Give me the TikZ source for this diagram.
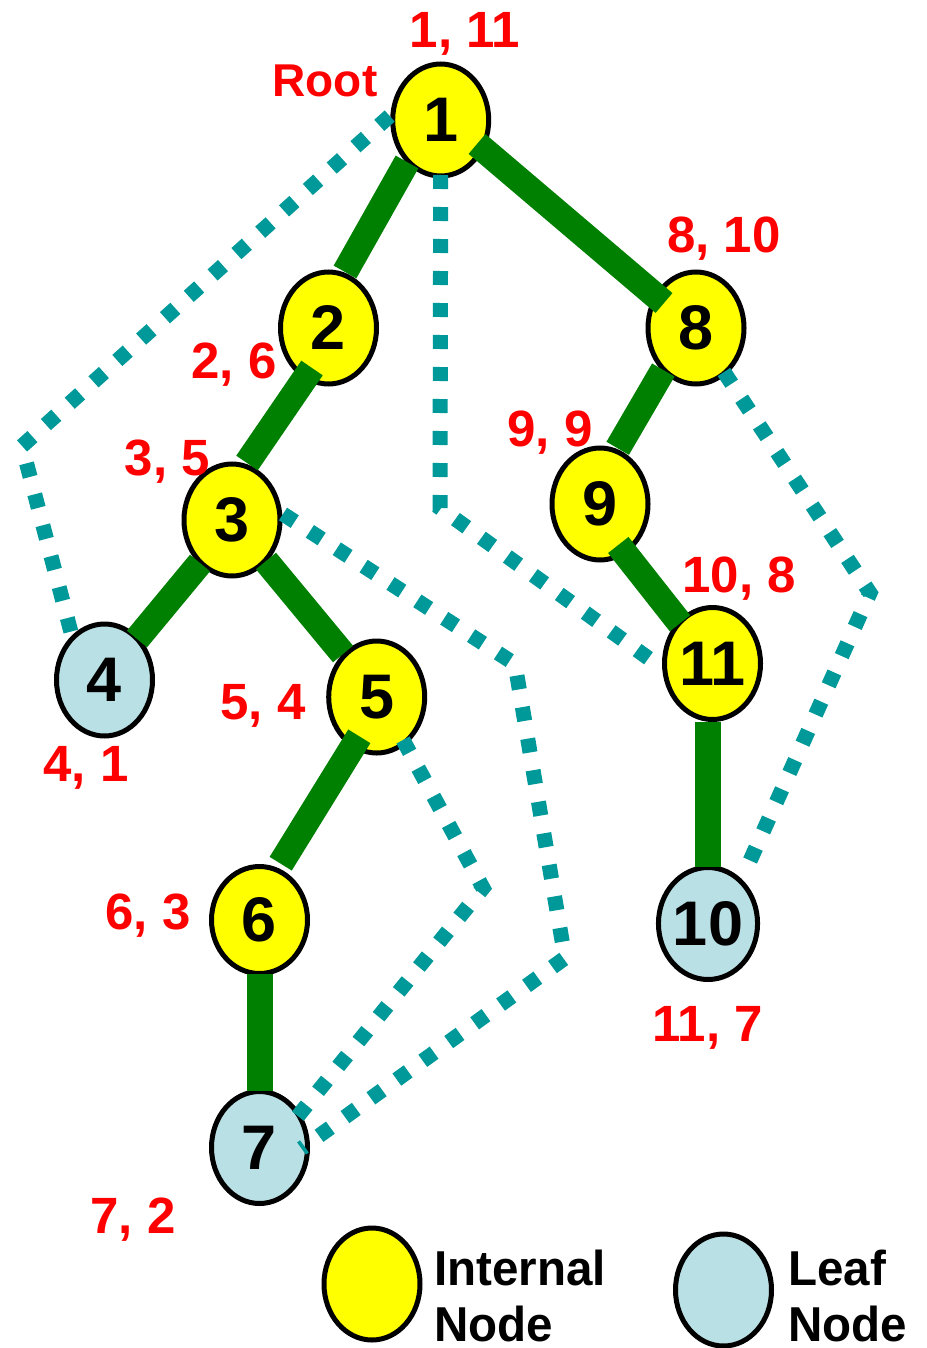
\documentclass[tikz,border=0pt]{standalone}
\usepackage{fontspec}
\setmainfont{Liberation Sans}
\usetikzlibrary{shapes.geometric,calc}
\definecolor{nodeyellow}{RGB}{255,255,0}
\definecolor{leafblue}{RGB}{185,224,228}
\definecolor{edgegreen}{RGB}{0,128,0}
\definecolor{dotteal}{RGB}{0,153,153}
\definecolor{labelred}{RGB}{255,0,0}
\begin{document}
\begin{tikzpicture}[x=1pt,y=-1pt,
  treenode/.style={ellipse,draw=black,line width=5pt,minimum width=96pt,minimum height=112pt,inner sep=0pt,font=\fontsize{63}{63}\selectfont\bfseries},
  internal/.style={treenode,fill=nodeyellow},
  leaf/.style={treenode,fill=leafblue},
  treeedge/.style={draw=edgegreen,line width=26pt},
  threadline/.style={draw=dotteal,line width=15pt,dash pattern=on 14pt off 18pt},
  numlabel/.style={text=labelred,font=\fontsize{51}{51}\selectfont\bfseries,anchor=base,inner sep=0pt},
  rootlabel/.style={text=labelred,font=\fontsize{46}{46}\selectfont\bfseries,anchor=base,inner sep=0pt},
  legendtext/.style={font=\fontsize{49}{49}\selectfont\bfseries,anchor=base west,inner sep=0pt,xscale=0.97}
]
\useasboundingbox (0,0) rectangle (926,1348);

% nodes
\node[internal] (n1) at (440.7,120) {1};
\node[internal] (n2) at (328.5,328) {2};
\node[internal] (n3) at (232,520) {3};
\node[leaf] (n4) at (104.5,680) {4};
\node[internal] (n5) at (376.7,697) {5};
\node[internal,minimum height=107pt] (n6) at (259.5,920) {6};
\node[leaf] (n7) at (259.5,1147.5) {7};
\node[internal] (n8) at (696,328) {8};
\node[internal] (n9) at (600,504) {9};
\node[leaf] (n10) at (708,923.5) {10};
\node[internal] (n11) at (712.5,663.5) {11};

% tree edges
\draw[treeedge] ($(n1)+(-33.7,42)$) -- ($(n2)+(16.5,-56)$);
\draw[treeedge] ($(n1)+(36.3,24)$) -- ($(n8)+(-32,-25)$);
\draw[treeedge] ($(n2)+(-16.5,40)$) -- ($(n3)+(15,-57)$);
\draw[treeedge] ($(n3)+(-32,43)$) -- ($(n4)+(32.5,-41)$);
\draw[treeedge] ($(n3)+(34,41)$) -- ($(n5)+(-33.7,-43)$);
\draw[treeedge] ($(n5)+(-17.4,39.3)$) -- ($(n6)+(21.2,-56.3)$);
\draw[treeedge] ($(n6)+(0,54)$) -- ($(n7)+(0,-57)$);
\draw[treeedge] ($(n8)+(-32.7,42)$) -- ($(n9)+(17.7,-55.7)$);
\draw[treeedge] ($(n9)+(18.3,41)$) -- ($(n11)+(-32.5,-40.2)$);
\draw[treeedge] ($(n11)+(-4.2,58)$) -- ($(n10)+(0.3,-56.8)$);

% thread lines
\coordinate (ca) at (22,446);
\coordinate (cb) at (440,508);
\coordinate (cc) at (870,593);
\coordinate (cd1) at (515,664);
\coordinate (cd2) at (565,958);
\coordinate (ce) at (483,888);
\draw[threadline] ($(n1)+(-51,-4)$) -- (ca) -- ($(n4)+(-32.5,-44)$);
\draw[threadline] ($(n1)+(0,55)$) -- (cb) -- ($(n11)+(-50.5,4.5)$);
\draw[threadline] ($(n8)+(28,44)$) -- (cc) -- ($(n10)+(37,-51.5)$);
\draw[threadline] ($(n3)+(51,-6)$) -- (cd1) -- (cd2) -- ($(n7)+(42,1)$);
\draw[threadline] ($(n5)+(26.3,43)$) -- (ce) -- ($(n7)+(34,-26)$);

% labels
\node[numlabel] (l1) at (465,48) {1, 11};
\node[rootlabel] (lroot) at (325,97) {Root};
\node[numlabel] (l8) at (724,253) {8, 10};
\node[numlabel] (l2) at (234,378) {2, 6};
\node[numlabel] (l9) at (550,446) {9, 9};
\node[numlabel] (l3) at (167.5,475) {3, 5};
\node[numlabel] (l11) at (739,592) {10, 8};
\node[numlabel] (l5) at (263,719) {5, 4};
\node[numlabel] (l4) at (86,781) {4, 1};
\node[numlabel] (l6) at (148,929) {6, 3};
\node[numlabel] (l10) at (707.5,1041) {11, 7};
\node[numlabel] (l7) at (133,1233) {7, 2};

% legend
\node[internal] (legint) at (372,1284) {};
\node[leaf] (legleaf) at (723.5,1290) {};
\node[legendtext] (ti1) at (434,1285) {Internal};
\node[legendtext] (ti2) at (434,1341) {Node};
\node[legendtext] (tl1) at (788,1285) {Leaf};
\node[legendtext] (tl2) at (788,1341) {Node};
\end{tikzpicture}
\end{document}
